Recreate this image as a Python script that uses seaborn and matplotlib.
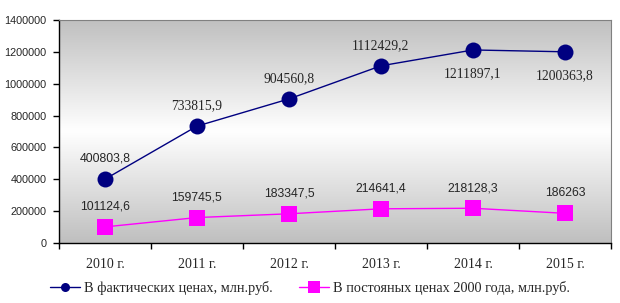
import numpy as np
import pandas as pd
import matplotlib
matplotlib.use("Agg")
import matplotlib.pyplot as plt
import seaborn as sns
from matplotlib.colors import LinearSegmentedColormap

years = ["2010 г.", "2011 г.", "2012 г.", "2013 г.", "2014 г.", "2015 г."]
actual = [400803.8, 733815.9, 904560.8, 1112429.2, 1211897.1, 1200363.8]
constant = [101124.6, 159745.5, 183347.5, 214641.4, 218128.3, 186263]
actual_labels = ["400803,8", "733815,9", "904560,8", "1112429,2", "1211897,1", "1200363,8"]
constant_labels = ["101124,6", "159745,5", "183347,5", "214641,4", "218128,3", "186263"]
name_actual = "В фактических ценах, млн.руб."
name_constant = "В постояных ценах 2000 года, млн.руб."

sns.set_theme(style="white")
plt.rcParams['font.family'] = ['Liberation Sans', 'DejaVu Sans']

PX = 72 / 100  # points per pixel

fig = plt.figure(figsize=(6.2, 3.03), dpi=100)
ax = fig.add_axes([59/620, 1-243/303, (611-59)/620, (243-20)/303])

# gradient background
cmap = LinearSegmentedColormap.from_list("g", ["#c0c0c0", "#ffffff", "#bfbfbf"])
grad = np.linspace(0, 1, 256).reshape(-1, 1)
ax.imshow(grad, cmap=cmap, aspect="auto", extent=[0, 1, 0, 1],
          transform=ax.transAxes, zorder=0)

df = pd.DataFrame({"year": years * 2,
                   "value": actual + constant,
                   "series": [name_actual] * 6 + [name_constant] * 6})
sns.lineplot(data=df, x="year", y="value", hue="series", style="series",
             markers={name_actual: "o", name_constant: "s"}, dashes=False,
             palette={name_actual: "#000080", name_constant: "#ff00ff"},
             markersize=11.5, markeredgewidth=0, linewidth=1, ax=ax, zorder=3,
             legend=True)
for line in ax.get_lines():
    if line.get_marker() == "s":
        line.set_markersize(11.5)

ax.set_xlim(-0.5, 5.5)
ax.set_ylim(0, 1400000)
ax.set_yticks(np.arange(0, 1400001, 200000))
ax.set_yticklabels([str(v) for v in range(0, 1400001, 200000)], fontsize=7.8)
ax.set_xticks(np.arange(-0.5, 5.6, 1))
ax.set_xticklabels([])
ax.set_xticks(range(6), minor=True)
ax.set_xticklabels(years, minor=True, fontsize=10, family="Liberation Serif")
ax.tick_params(axis="x", which="major", direction="out", length=4, width=1, color="black", bottom=True)
ax.tick_params(axis="x", which="minor", length=0, pad=11)
ax.tick_params(axis="y", direction="out", length=4, width=1, color="black", left=True, pad=5)
ax.set_xlabel("")
ax.set_ylabel("")
for s in ["left", "bottom"]:
    ax.spines[s].set_color("black")
    ax.spines[s].set_linewidth(1)
for s in ["top", "right"]:
    ax.spines[s].set_color("#808080")
    ax.spines[s].set_linewidth(0.8)

# data labels
for i, (v, t) in enumerate(zip(actual, actual_labels)):
    if i == 0:
        ax.annotate(t, (i, v), xytext=(0, 21 * PX), textcoords="offset points",
                    ha="center", va="center", fontsize=8.8, zorder=5)
    elif i < 4:
        ax.annotate(t, (i, v), xytext=(0, 20 * PX), textcoords="offset points",
                    ha="center", va="center", fontsize=9.8, family="Liberation Serif", zorder=5)
    else:
        ax.annotate(t, (i, v), xytext=(0, -24 * PX), textcoords="offset points",
                    ha="center", va="center", fontsize=9.8, family="Liberation Serif", zorder=5)
for i, (v, t) in enumerate(zip(constant, constant_labels)):
    ax.annotate(t, (i, v), xytext=(0, 20 * PX), textcoords="offset points",
                ha="center", va="center", fontsize=8.8, zorder=5)

handles, labels = ax.get_legend_handles_labels()
ax.legend().remove()
leg = fig.legend(handles, labels, loc="center left", bbox_to_anchor=(50/620, 1-288/303),
                 ncol=2, frameon=False, prop={"family": "Liberation Serif", "size": 10.3},
                 handlelength=2.1, columnspacing=1.8, handletextpad=0.3,
                 borderpad=0, borderaxespad=0)
for h in leg.legend_handles:
    if h.get_marker() == "o":
        h.set_markersize(6.5)
    else:
        h.set_markersize(9)

fig.savefig("out.png", dpi=100)
